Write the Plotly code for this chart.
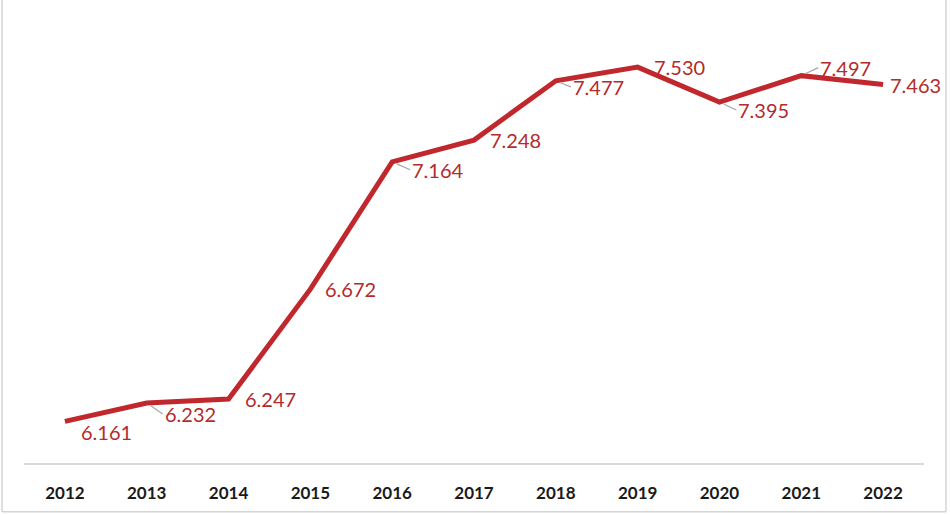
import plotly.graph_objects as go

years = ["2012", "2013", "2014", "2015", "2016", "2017", "2018", "2019", "2020", "2021", "2022"]
values = [6.161, 6.232, 6.247, 6.672, 7.164, 7.248, 7.477, 7.530, 7.395, 7.497, 7.463]
labels = ["6.161", "6.232", "6.247", "6.672", "7.164", "7.248", "7.477", "7.530", "7.395", "7.497", "7.463"]

# label placement (pixel offsets from point) and whether Excel drew a leader line
label_dx = [17, 16, 17, 16, 18, 17, 15, 17, 17, 17, 8]
label_dy = [-11, -11, 0, 0, -8, 0, -6, 0, -8, 8, -1]
leader = [False, True, False, False, True, False, True, False, True, True, False]

RED_LINE = "#c0282d"
RED_TEXT = "#b32b2b"

fig = go.Figure()
fig.add_trace(go.Scatter(
    x=years, y=values, mode="lines",
    line=dict(color=RED_LINE, width=5),
    hoverinfo="skip",
))

annotations = []
for i, (v, t, dx, dy, ld) in enumerate(zip(values, labels, label_dx, label_dy, leader)):
    if ld:
        annotations.append(dict(
            x=i, y=v, xref="x", yref="y", text=t,
            showarrow=True, arrowhead=0, arrowwidth=1.2, arrowcolor="#a6a6a6",
            ax=dx, ay=-dy, xanchor="left", yanchor="middle", standoff=5,
            font=dict(family="Lato", size=20, color=RED_TEXT),
        ))
    else:
        annotations.append(dict(
            x=i, y=v, xref="x", yref="y", text=t, showarrow=False,
            xanchor="left", yanchor="middle", xshift=dx - 3, yshift=dy,
            font=dict(family="Lato", size=20, color=RED_TEXT),
        ))

fig.update_layout(
    width=950, height=515,
    margin=dict(l=24, r=26, t=49, b=52),
    paper_bgcolor="white", plot_bgcolor="white",
    showlegend=False,
    annotations=annotations,
    xaxis=dict(
        type="category", range=[-0.5, 10.5],
        showgrid=False, zeroline=False,
        showline=True, linecolor="#d9d9d9", linewidth=2,
        ticks="outside", ticklen=14, tickcolor="rgba(0,0,0,0)",
        tickfont=dict(family="Lato", size=17, color="#1a1a1a", weight="bold"),
    ),
    yaxis=dict(
        range=[6.0, 7.6], showgrid=False, zeroline=False,
        showticklabels=False, showline=False,
    ),
    shapes=[
        dict(type="line", xref="paper", yref="paper", x0=-0.0244, x1=-0.0244, y0=-0.118, y1=1.2,
             line=dict(color="#d4d4d4", width=1.5)),
        dict(type="line", xref="paper", yref="paper", x0=1.0244, x1=1.0244, y0=-0.118, y1=1.2,
             line=dict(color="#d4d4d4", width=1.5)),
        dict(type="line", xref="paper", yref="paper", x0=-0.0244, x1=1.0244, y0=-0.118, y1=-0.118,
             line=dict(color="#d4d4d4", width=1.5)),
    ],
)

fig.write_html("out.html", config={"displayModeBar": False},
               post_script="document.body.style.margin='0';document.body.style.overflow='hidden';")
